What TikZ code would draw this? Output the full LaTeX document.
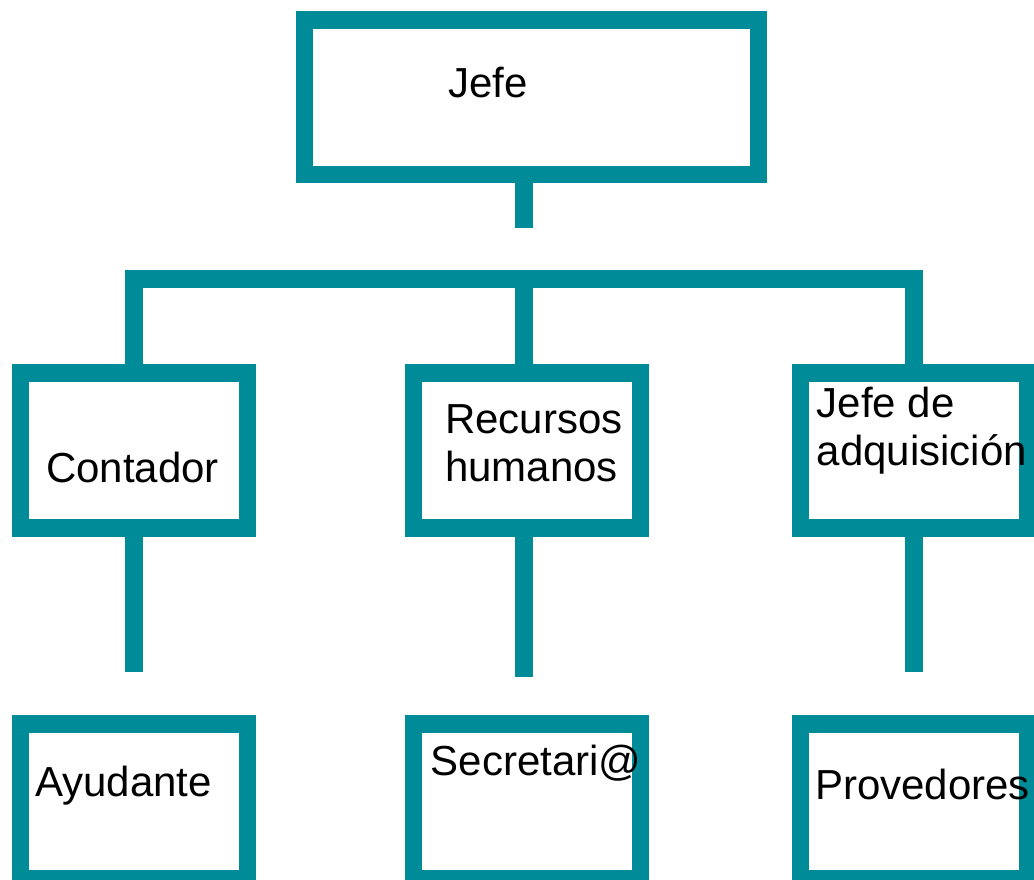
\documentclass[tikz,border=0pt]{standalone}
\usepackage{fontspec}
\setmainfont{Liberation Sans}
\usepackage{tikz}
\usetikzlibrary{calc}
\definecolor{azul}{RGB}{0,139,153}
\tikzstyle{puesto} = [draw=azul, line width=17.5pt, rectangle, minimum width=227pt, minimum height=155pt, inner sep=0pt]
\tikzstyle{texto} = [anchor=base west, inner sep=0pt, font=\fontsize{42}{48}\selectfont, align=left]
\tikzstyle{linea} = [draw=azul, line width=17.5pt, line join=miter]

\begin{document}
\begin{tikzpicture}[x=1pt, y=-1pt]
    \useasboundingbox (0,0) rectangle (1034,879);
    % cajas
    \node[puesto, minimum width=454pt, minimum height=154.5pt] (jefe) at (531.5,97) {};
    \node[puesto] (contador) at (134,450.5) {};
    \node[puesto] (recursos) at (527,450.5) {};
    \node[puesto] (adquisicion) at (914,450.5) {};
    \node[puesto] (ayudante) at (134,801.5) {};
    \node[puesto] (secretaria) at (527,801.5) {};
    \node[puesto] (provedores) at (914,801.5) {};
    % textos (base = ultima linea)
    \node[texto] (t-jefe) at (448.3,97) {Jefe};
    \node[texto] (t-contador) at (46,482.7) {Contador};
    \node[texto] (t-recursos) at (445,481.7) {Recursos\\humanos};
    \node[texto] (t-adquisicion) at (816.7,465) {Jefe de\\adquisición};
    \node[texto] (t-ayudante) at (35,796) {Ayudante};
    \node[texto] (t-secretaria) at (430.7,775) {Secretari@};
    \node[texto] (t-provedores) at (815,799) {Provedores};
    % conectores
    \coordinate (stem) at (524,227.7);
    \coordinate (barra) at (524,278.8);
    \coordinate (c-bajo) at (134,671.7);
    \coordinate (r-bajo) at (524,676.7);
    \coordinate (a-bajo) at (914,671.7);
    \path[linea] (jefe.south -| stem) -- (stem);
    \path[linea] (contador.north) -- (contador.north |- barra) -- (adquisicion.north |- barra) -- (adquisicion.north);
    \path[linea] (barra) -- (recursos.north -| barra);
    \path[linea] (contador.south) -- (c-bajo);
    \path[linea] (recursos.south -| r-bajo) -- (r-bajo);
    \path[linea] (adquisicion.south) -- (a-bajo);
\end{tikzpicture}
\end{document}
